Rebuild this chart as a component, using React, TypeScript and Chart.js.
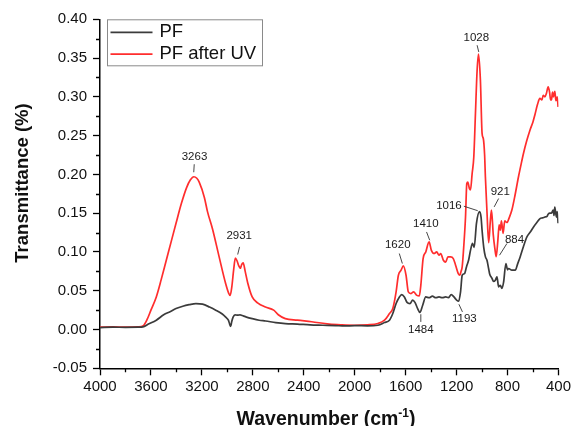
import React, { useEffect, useRef } from 'react';
import { Chart, registerables } from 'chart.js';

Chart.register(...registerables);

// ---------- data ----------
const pfWavenumbers = [
  4000, 3900, 3800, 3700, 3663, 3620, 3558, 3500, 3450, 3403, 3350, 3300, 3247, 3195, 3140, 3091, 3040, 3013,
  2992, 2982, 2974, 2966, 2955, 2940, 2920, 2900, 2883, 2850, 2805, 2750, 2700, 2620, 2545, 2450, 2350, 2250,
  2150, 2078, 2000, 1900, 1818, 1766, 1727, 1701, 1675, 1649, 1631, 1610, 1589, 1566, 1545, 1527, 1506, 1488,
  1467, 1442, 1416, 1390, 1364, 1338, 1312, 1286, 1265, 1242, 1221, 1200, 1184, 1169, 1156, 1138, 1122, 1105,
  1091, 1075, 1062, 1044, 1020, 1008, 1000, 987, 974, 961, 948, 941, 922, 910, 896, 883, 870, 857, 844, 831,
  813, 800, 792, 766, 740, 720, 701, 675, 649, 620, 597, 570, 545, 525, 507, 490, 480, 468, 455, 442, 435, 429,
  422, 416, 410, 403,
];
const pfValues = [
  0.0025, 0.003, 0.0028, 0.003, 0.0034, 0.007, 0.012, 0.019, 0.023, 0.027, 0.030, 0.032, 0.0335, 0.0327, 0.029,
  0.025, 0.020, 0.016, 0.012, 0.007, 0.004, 0.010, 0.016, 0.019, 0.0185, 0.019, 0.018, 0.016, 0.014, 0.012,
  0.011, 0.009, 0.0077, 0.007, 0.006, 0.0055, 0.005, 0.0046, 0.005, 0.0048, 0.0055, 0.009, 0.012, 0.0206,
  0.0335, 0.042, 0.045, 0.042, 0.035, 0.0335, 0.038, 0.035, 0.027, 0.022, 0.031, 0.042, 0.041, 0.043, 0.041,
  0.042, 0.041, 0.042, 0.041, 0.045, 0.042, 0.038, 0.0365, 0.0485, 0.070, 0.072, 0.081, 0.090, 0.102, 0.111,
  0.106, 0.137, 0.152, 0.145, 0.128, 0.106, 0.094, 0.089, 0.078, 0.072, 0.066, 0.062, 0.0636, 0.068, 0.055,
  0.057, 0.053, 0.061, 0.085, 0.077, 0.0787, 0.0765, 0.0765, 0.085, 0.0936, 0.107, 0.119, 0.126, 0.132, 0.138,
  0.143, 0.144, 0.145, 0.146, 0.149, 0.150, 0.150, 0.154, 0.147, 0.158, 0.150, 0.145, 0.152, 0.137,
];

const uvWavenumbers = [
  4000, 3900, 3800, 3700, 3660, 3630, 3600, 3558, 3520, 3480, 3440, 3403, 3360, 3320, 3290, 3263, 3240, 3221,
  3180, 3156, 3117, 3065, 3013, 2990, 2978, 2965, 2950, 2937, 2925, 2910, 2898, 2887, 2876, 2860, 2840, 2805,
  2760, 2701, 2636, 2600, 2545, 2450, 2338, 2200, 2100, 2000, 1900, 1818, 1766, 1727, 1701, 1675, 1657, 1636,
  1618, 1597, 1579, 1558, 1538, 1512, 1493, 1481, 1463, 1442, 1416, 1398, 1377, 1356, 1338, 1325, 1304, 1286,
  1268, 1247, 1226, 1208, 1187, 1174, 1165, 1156, 1143, 1130, 1120, 1112, 1100, 1091, 1078, 1065, 1052, 1039,
  1028, 1013, 1000, 990, 980, 974, 961, 948, 935, 926, 912, 900, 889, 876, 866, 857, 848, 835, 822, 805, 785,
  766, 745, 714, 695, 675, 650, 624, 600, 585, 565, 546, 530, 520, 507, 494, 481, 470, 462, 455, 447, 440, 429,
  420, 410, 403,
];
const uvValues = [
  0.003, 0.0035, 0.003, 0.0035, 0.005, 0.013, 0.025, 0.042, 0.064, 0.089, 0.114, 0.137, 0.163, 0.183, 0.193,
  0.197, 0.195, 0.190, 0.170, 0.152, 0.130, 0.094, 0.059, 0.047, 0.044, 0.055, 0.078, 0.092, 0.089, 0.082,
  0.079, 0.084, 0.086, 0.075, 0.060, 0.042, 0.034, 0.029, 0.025, 0.019, 0.014, 0.012, 0.010, 0.007, 0.006,
  0.0055, 0.006, 0.0077, 0.012, 0.0206, 0.027, 0.0485, 0.070, 0.0765, 0.082, 0.070, 0.0485, 0.0464, 0.0485,
  0.044, 0.0433, 0.057, 0.0915, 0.100, 0.113, 0.102, 0.098, 0.100, 0.0958, 0.098, 0.0893, 0.087, 0.0936,
  0.0936, 0.0915, 0.083, 0.072, 0.070, 0.075, 0.081, 0.109, 0.145, 0.188, 0.190, 0.182, 0.180, 0.201, 0.2225,
  0.2785, 0.334, 0.355, 0.321, 0.253, 0.246, 0.225, 0.197, 0.150, 0.112, 0.140, 0.154, 0.122, 0.105, 0.094,
  0.115, 0.135, 0.128, 0.140, 0.124, 0.140, 0.138, 0.145, 0.154, 0.170, 0.197, 0.212, 0.227, 0.243, 0.257,
  0.268, 0.277, 0.290, 0.298, 0.296, 0.302, 0.300, 0.305, 0.313, 0.306, 0.296, 0.296, 0.306, 0.300, 0.307,
  0.295, 0.300, 0.287,
];

const seriesLabels = ['PF', 'PF after UV'];
const xTickValues = [4000, 3600, 3200, 2800, 2400, 2000, 1600, 1200, 800, 400];
const yTickValues = [-0.05, 0, 0.05, 0.1, 0.15, 0.2, 0.25, 0.3, 0.35, 0.4];

// peak annotations, in data units: label text, text anchor, leader line ends
const peakTexts = ['3263', '2931', '1620', '1410', '1484', '1193', '1016', '1028', '921', '884'];
const peakTextX = [3258, 2907, 1662, 1442, 1481, 1139, 1260, 1045, 857, 745];
const peakTextY = [0.2222, 0.1203, 0.1087, 0.1358, -0.0009, 0.0142, 0.1594, 0.3765, 0.1774, 0.1151];
const peakLineX1 = [3260, 2904, 1650, 1436, 1481, 1182, 1143, 1039, 870, 805];
const peakLineY1 = [0.2131, 0.1065, 0.098, 0.1258, 0.0197, 0.0326, 0.159, 0.3666, 0.1689, 0.1109];
const peakLineX2 = [3264, 2919, 1626, 1411, 1481, 1154, 1034, 1026, 905, 863];
const peakLineY2 = [0.2028, 0.0967, 0.0851, 0.1151, 0.0098, 0.0227, 0.1532, 0.3579, 0.1581, 0.0958];

const FONT = "'Liberation Sans', Arial, Helvetica, sans-serif";
const PF_COLOR = '#3b3b3b';
const UV_COLOR = '#ff2d2d';

const extrasPlugin = {
  id: 'extras',
  afterDraw(chart: any) {
    const { ctx, chartArea, scales } = chart;
    const xs = scales.x;
    const ys = scales.y;
    ctx.save();

    // minor ticks
    ctx.strokeStyle = '#000';
    ctx.lineWidth = 1.3;
    ctx.beginPath();
    for (let v = 600; v < 4000; v += 400) {
      const px = Math.round(xs.getPixelForValue(v)) + 0.5;
      ctx.moveTo(px, chartArea.bottom);
      ctx.lineTo(px, chartArea.bottom + 4);
    }
    for (let k = 0; k < 9; k++) {
      const v = -0.025 + k * 0.05;
      const py = Math.round(ys.getPixelForValue(v)) + 0.5;
      ctx.moveTo(chartArea.left - 4, py);
      ctx.lineTo(chartArea.left, py);
    }
    ctx.stroke();

    // peak annotations
    ctx.strokeStyle = '#333';
    ctx.lineWidth = 0.9;
    ctx.fillStyle = '#1a1a1a';
    ctx.font = `11.5px ${FONT}`;
    ctx.textAlign = 'center';
    ctx.textBaseline = 'middle';
    for (let i = 0; i < peakTexts.length; i++) {
      ctx.beginPath();
      ctx.moveTo(xs.getPixelForValue(peakLineX1[i]), ys.getPixelForValue(peakLineY1[i]));
      ctx.lineTo(xs.getPixelForValue(peakLineX2[i]), ys.getPixelForValue(peakLineY2[i]));
      ctx.stroke();
      ctx.fillText(peakTexts[i], xs.getPixelForValue(peakTextX[i]), ys.getPixelForValue(peakTextY[i]));
    }

    // legend
    const lx = chartArea.left + 7.5;
    const ly = chartArea.top + 0.5;
    ctx.strokeStyle = '#8a8a8a';
    ctx.lineWidth = 1;
    ctx.strokeRect(lx, ly, 155, 46);
    ctx.font = `18.5px ${FONT}`;
    ctx.textAlign = 'left';
    ctx.fillStyle = '#111';
    chart.data.datasets.forEach((ds: any, i: number) => {
      const yy = ly + 12.5 + i * 21.8;
      ctx.strokeStyle = ds.borderColor;
      ctx.lineWidth = 1.7;
      ctx.beginPath();
      ctx.moveTo(lx + 3, yy);
      ctx.lineTo(lx + 45, yy);
      ctx.stroke();
      ctx.fillText(ds.label, lx + 52, yy);
    });

    // axis titles
    ctx.fillStyle = '#111';
    ctx.font = `bold 18.5px ${FONT}`;
    ctx.textAlign = 'center';
    ctx.textBaseline = 'middle';
    ctx.save();
    ctx.translate(23, 183);
    ctx.rotate(-Math.PI / 2);
    ctx.fillText('Transmittance (%)', 0, 0);
    ctx.restore();

    const main = 'Wavenumber (cm';
    const sup = '-1';
    const close = ')';
    const bigFont = `bold 19.5px ${FONT}`;
    const supFont = `bold 12px ${FONT}`;
    ctx.font = bigFont;
    const wMain = ctx.measureText(main).width;
    const wClose = ctx.measureText(close).width;
    ctx.font = supFont;
    const wSup = ctx.measureText(sup).width;
    const total = wMain + wSup + wClose;
    let x0 = 326 - total / 2;
    const base = 425;
    ctx.textAlign = 'left';
    ctx.textBaseline = 'alphabetic';
    ctx.font = bigFont;
    ctx.fillText(main, x0, base);
    x0 += wMain;
    ctx.font = supFont;
    ctx.fillText(sup, x0, base - 8);
    x0 += wSup;
    ctx.font = bigFont;
    ctx.fillText(close, x0, base);

    ctx.restore();
  },
};

export default function App() {
  const canvasRef = useRef<HTMLCanvasElement | null>(null);

  useEffect(() => {
    document.body.style.margin = '0';
    const canvas = canvasRef.current;
    if (!canvas) return;
    const pfData = pfWavenumbers.map((x, i) => ({ x, y: pfValues[i] }));
    const uvData = uvWavenumbers.map((x, i) => ({ x, y: uvValues[i] }));

    const chart = new Chart(canvas, {
      type: 'line',
      data: {
        datasets: [
          {
            label: seriesLabels[0],
            data: pfData,
            borderColor: PF_COLOR,
            backgroundColor: PF_COLOR,
            borderWidth: 1.7,
            pointRadius: 0,
            cubicInterpolationMode: 'monotone',
            fill: false,
          },
          {
            label: seriesLabels[1],
            data: uvData,
            borderColor: UV_COLOR,
            backgroundColor: UV_COLOR,
            borderWidth: 1.7,
            pointRadius: 0,
            cubicInterpolationMode: 'monotone',
            fill: false,
          },
        ],
      },
      options: {
        responsive: false,
        animation: false,
        devicePixelRatio: 1,
        layout: { padding: { left: 0, top: 19.3, right: 12, bottom: 0 } },
        plugins: { legend: { display: false }, tooltip: { enabled: false } },
        scales: {
          x: {
            type: 'linear',
            reverse: true,
            min: 400,
            max: 4000,
            afterFit: (s: any) => {
              s.height = 57.7;
            },
            afterBuildTicks: (s: any) => {
              s.ticks = xTickValues.map((v) => ({ value: v }));
            },
            ticks: {
              callback: (v: any) => String(v),
              font: { family: FONT, size: 15 },
              color: '#111',
              padding: 3,
              maxRotation: 0,
              autoSkip: false,
            },
            grid: {
              drawOnChartArea: false,
              drawTicks: true,
              tickLength: 7,
              tickColor: '#000',
              tickWidth: 1.3,
            },
            border: { display: true, color: '#000', width: 1.5 },
          },
          y: {
            type: 'linear',
            min: -0.05,
            max: 0.4,
            afterFit: (s: any) => {
              s.width = 100;
            },
            afterBuildTicks: (s: any) => {
              s.ticks = yTickValues.map((v) => ({ value: v }));
            },
            ticks: {
              callback: (v: any) => Number(v).toFixed(2),
              font: { family: FONT, size: 15 },
              color: '#111',
              padding: 6,
              autoSkip: false,
            },
            grid: {
              drawOnChartArea: false,
              drawTicks: true,
              tickLength: 7,
              tickColor: '#000',
              tickWidth: 1.3,
            },
            border: { display: true, color: '#000', width: 1.5 },
          },
        },
      },
      plugins: [extrasPlugin],
    });

    return () => {
      chart.destroy();
    };
  }, []);

  return (
    <div style={{ position: 'fixed', left: 0, top: 0, width: 574, height: 426, background: '#fff' }}>
      <canvas ref={canvasRef} width={574} height={426} style={{ display: 'block' }} />
    </div>
  );
}
